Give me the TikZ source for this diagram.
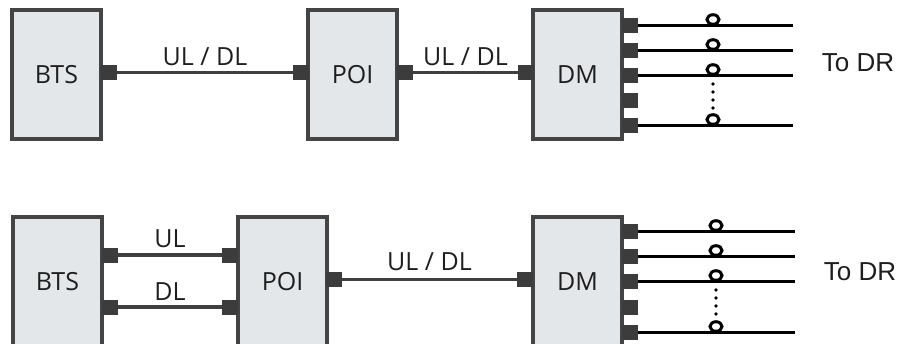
\documentclass[tikz,border=0pt]{standalone}
\usepackage{fontspec}
\setmainfont{Open Sans}
\newfontfamily\arialf{Liberation Sans}
\definecolor{boxfill}{RGB}{228,231,234}
\definecolor{boxline}{RGB}{68,68,68}
\definecolor{portc}{RGB}{60,60,60}
\definecolor{wirec}{RGB}{64,64,64}
\definecolor{textc}{RGB}{30,30,30}
\tikzset{
  unit/.style={draw=boxline, line width=3.4pt, fill=boxfill, minimum width=89pt,
    minimum height=129pt, inner sep=0pt, font=\fontsize{25}{30}\selectfont, text=textc},
  port/.style={fill=portc, draw=none, minimum width=16pt, minimum height=15pt, inner sep=0pt},
  wire/.style={draw=wirec, line width=3.6pt},
  cable/.style={draw=black, line width=3pt},
  lbl/.style={font=\fontsize{25}{30}\selectfont, text=textc, inner sep=0pt},
  dr/.style={font=\arialf\fontsize{26}{30}\selectfont, text=textc, inner sep=0pt},
}
\begin{document}
\begin{tikzpicture}[x=1pt,y=-1pt]
\useasboundingbox (0,0) rectangle (903,343);
\clip (0,0) rectangle (903,343);
% ---------------- top row ----------------
\node[unit] (bts1) at (56.5,74.5) {BTS};
\node[unit] (poi1) at (352.5,74.5) {POI};
\node[unit] (dm1)  at (577.5,74.5) {DM};
\node[port] (bts1r) at (109,72.5) {};
\node[port] (poi1l) at (301,72.5) {};
\node[port] (poi1r) at (405,72.5) {};
\node[port] (dm1l)  at (526,72.5) {};
\draw[wire] (bts1r) -- node[lbl, above=5pt] {UL / DL} (poi1l);
\draw[wire] (poi1r) -- node[lbl, above=5pt] {UL / DL} (dm1l);
\foreach \i/\y in {1/25,2/50,3/75,4/100,5/125} {
  \node[port] (dm1r\i) at (630,\y) {};
}
\foreach \i/\y in {1/25,2/50,3/75,5/125} {
  \coordinate (e1\i) at (793,\y);
  \draw[cable] (dm1r\i) -- (e1\i);
  \draw[cable] (713,\y-5.5) ellipse (6 and 4.8);
}
\foreach \y in {84,92,100,108} \fill (713,\y) circle (1.9);
\node[dr] (todr1) at (858,63) {To DR};
% ---------------- bottom row ----------------
\node[unit] (bts2) at (57.5,281.5) {BTS};
\node[unit] (poi2) at (282.5,281.5) {POI};
\node[unit] (dm2)  at (577.5,281.5) {DM};
\node[port] (bts2a) at (110,255) {};
\node[port] (bts2b) at (110,307) {};
\node[port] (poi2a) at (230,255) {};
\node[port] (poi2b) at (230,307) {};
\node[port] (poi2r) at (334,279.5) {};
\node[port] (dm2l)  at (525,279.5) {};
\draw[wire] (bts2a) -- node[lbl, above=5pt] {UL} (poi2a);
\draw[wire] (bts2b) -- node[lbl, above=5pt] {DL} (poi2b);
\draw[wire] (poi2r) -- node[lbl, above=7pt] {UL / DL} (dm2l);
\foreach \i/\y in {1/231,2/256,3/281,4/307,5/332} {
  \node[port] (dm2r\i) at (630,\y) {};
}
\foreach \i/\y in {1/231,2/256,3/281,5/332} {
  \coordinate (e2\i) at (795,\y);
  \draw[cable] (dm2r\i) -- (e2\i);
  \draw[cable] (716,\y-5.5) ellipse (6 and 4.8);
}
\foreach \y in {290,298,306,314} \fill (716,\y) circle (1.9);
\node[dr] (todr2) at (860,272) {To DR};
\end{tikzpicture}
\end{document}
